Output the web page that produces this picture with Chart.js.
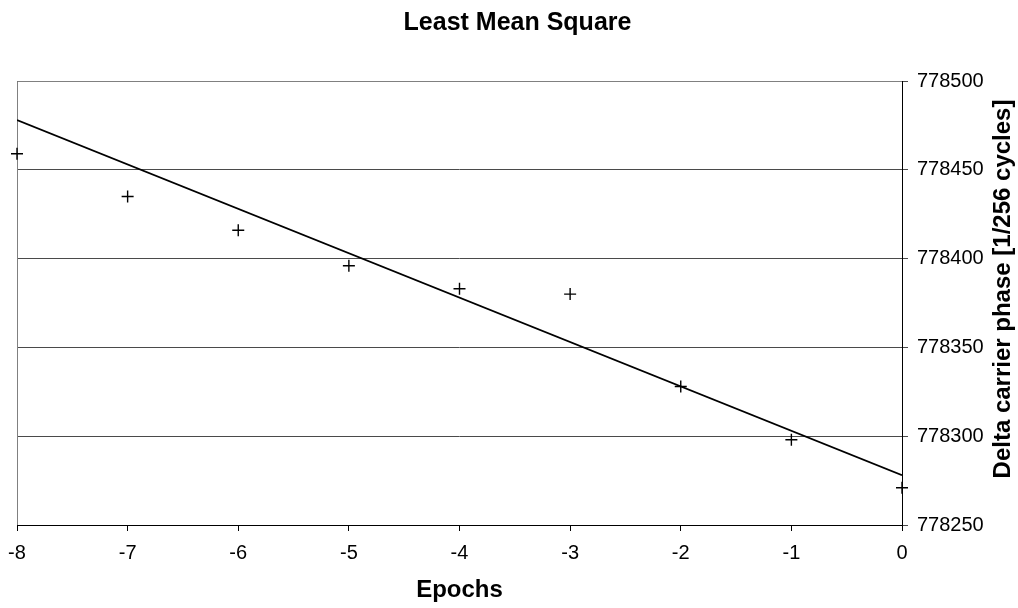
<!DOCTYPE html>
<html>
<head>
<meta charset="utf-8">
<script src="https://cdn.jsdelivr.net/npm/chart.js@4/dist/chart.umd.min.js"></script>
<style>
html,body{margin:0;padding:0;background:#fff;}
#wrap{width:1018px;height:608px;position:relative;}
</style>
</head>
<body>
<div id="wrap"><canvas id="c"></canvas></div>
<script>
const epochs = [-8, -7, -6, -5, -4, -3, -2, -1, 0];
const phaseValues = [778459, 778435, 778416, 778396, 778383, 778380, 778328, 778298, 778271];
const trendEpochs = [-8, 0];
const trendValues = [778478, 778278];
const xTicks = [-8, -7, -6, -5, -4, -3, -2, -1, 0];
const yTicks = [778250, 778300, 778350, 778400, 778450, 778500];
const chartTitle = 'Least Mean Square';
const xTitle = 'Epochs';
const yTitle = 'Delta carrier phase [1/256 cycles]';

const FONT = '"Liberation Sans", Arial, sans-serif';

const pointData = epochs.map((x, i) => ({x: x, y: phaseValues[i]}));
const trendData = trendEpochs.map((x, i) => ({x: x, y: trendValues[i]}));

const frame = {
  id: 'frame',
  beforeDatasetsDraw(chart) {
    const {ctx, chartArea: a} = chart;
    ctx.save();
    ctx.strokeStyle = '#808080';
    ctx.lineWidth = 1;
    ctx.beginPath();
    ctx.moveTo(a.left + 0.5, a.bottom);
    ctx.lineTo(a.left + 0.5, a.top + 0.5);
    ctx.lineTo(a.right, a.top + 0.5);
    ctx.stroke();
    ctx.restore();
  },
  afterDraw(chart) {
    const {ctx, chartArea: a} = chart;
    ctx.save();
    ctx.fillStyle = '#000';
    ctx.font = 'bold 24px ' + FONT;
    ctx.textAlign = 'center';
    ctx.textBaseline = 'middle';
    ctx.translate(1003, (a.top + a.bottom) / 2 - 14);
    ctx.rotate(-Math.PI / 2);
    ctx.fillText(yTitle, 0, 0);
    ctx.restore();
  }
};

new Chart(document.getElementById('c'), {
  type: 'scatter',
  data: {
    datasets: [
      {
        label: 'Trend',
        data: trendData,
        showLine: true,
        borderColor: '#000',
        borderWidth: 1.8,
        pointRadius: 0,
        fill: false,
        order: 2
      },
      {
        label: 'Phase',
        data: pointData,
        showLine: false,
        clip: false,
        pointStyle: 'cross',
        pointRadius: 6,
        pointBorderWidth: 1.4,
        borderColor: '#000',
        backgroundColor: '#000',
        order: 1
      }
    ]
  },
  plugins: [frame],
  options: {
    responsive: true,
    maintainAspectRatio: false,
    animation: false,
    layout: {padding: {left: 17, right: 0, top: 0, bottom: 0}},
    plugins: {
      legend: {display: false},
      tooltip: {enabled: false},
      title: {
        display: true,
        text: chartTitle,
        color: '#000',
        font: {family: FONT, size: 25, weight: 'bold'},
        padding: {top: 8, bottom: 43}
      }
    },
    scales: {
      x: {
        type: 'linear',
        position: 'bottom',
        min: -8,
        max: 0,
        afterBuildTicks(scale) { scale.ticks = xTicks.map(v => ({value: v})); },
        afterFit(scale) { scale.height = 83; scale.paddingLeft = 0; scale.paddingRight = 0; },
        ticks: {
          color: '#000',
          font: {family: FONT, size: 20},
          padding: 10,
          maxRotation: 0,
          callback: v => String(v)
        },
        grid: {
          drawOnChartArea: false,
          drawTicks: true,
          tickLength: 6,
          color: '#000'
        },
        border: {display: true, color: '#000', width: 1},
        title: {
          display: true,
          text: xTitle,
          color: '#000',
          font: {family: FONT, size: 24, weight: 'bold'},
          padding: {top: 10, bottom: 3}
        }
      },
      y: {
        type: 'linear',
        position: 'right',
        min: 778250,
        max: 778500,
        afterBuildTicks(scale) { scale.ticks = yTicks.map(v => ({value: v})); },
        afterFit(scale) { scale.width = 116; },
        ticks: {
          color: '#000',
          font: {family: FONT, size: 20},
          padding: 9,
          callback: v => String(v)
        },
        grid: {
          drawOnChartArea: true,
          drawTicks: true,
          tickLength: 6,
          color: '#4a4a4a',
          lineWidth: 1
        },
        border: {display: true, color: '#000', width: 1}
      }
    }
  }
});
</script>
</body>
</html>
